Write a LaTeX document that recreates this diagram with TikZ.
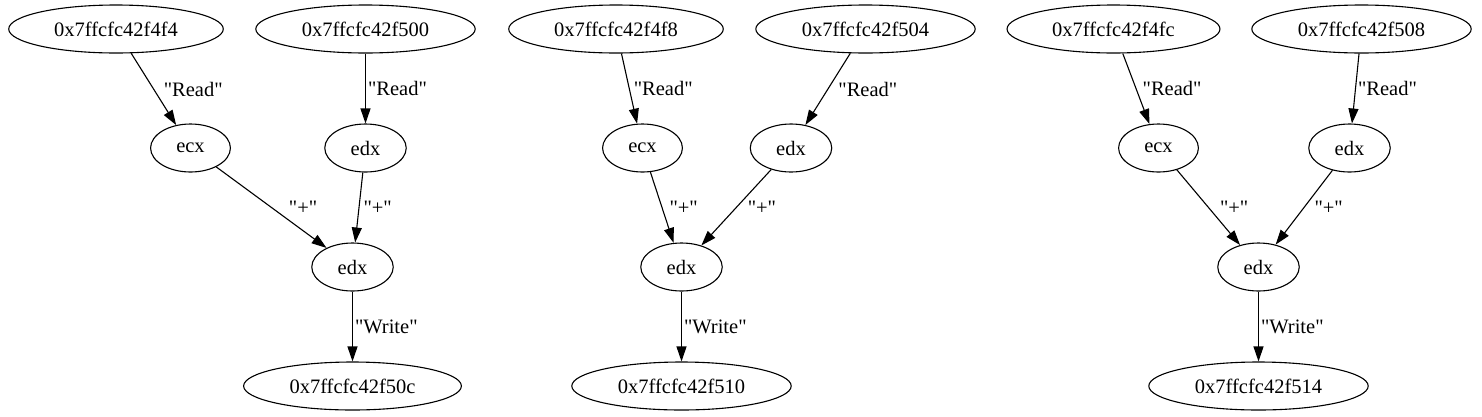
\documentclass[tikz,border=0pt]{standalone}
\usepackage{fontspec}
\setmainfont{Liberation Serif}
\usetikzlibrary{arrows.meta, shapes.geometric}
\newcommand\qq[1]{\textquotedbl#1\textquotedbl}
\tikzset{
  reg/.style={draw, ellipse, line width=1.1pt, inner xsep=14pt, inner ysep=0pt,
    minimum height=48pt, font=\fontsize{20.5}{24}\selectfont},
  flow/.style={-{Triangle[length=15pt,width=10pt]}, line width=1.1pt},
  lbl/.style={midway, anchor=west, inner sep=0pt, font=\fontsize{20.5}{24}\selectfont}
}
\begin{document}
\begin{tikzpicture}[x=1pt, y=-1pt]
  \useasboundingbox (0,0) rectangle (1482,416);
  \foreach \g/\xa/\xb/\xc/\xd/\xs/\ta/\tb/\tc/\ra/\rb/\pa/\pb in {
      1/116/365.5/190.5/365.5/352.5/f4f4/f500/f50c/9.6/2/17/4,
      2/616/865.5/642.5/791/681.5/f4f8/f504/f510/4/10/7/11,
      3/1113.5/1361.5/1158.5/1349.5/1258.5/f4fc/f508/f514/6/2/11/10}
  {
    \node[reg] (ina\g) at (\xa,29) {0x7ffcfc42\ta};
    \node[reg] (inb\g) at (\xb,29) {0x7ffcfc42\tb};
    \node[reg] (ecx\g) at (\xc,148) {ecx};
    \node[reg] (edx\g) at (\xd,148) {edx};
    \node[reg] (sum\g) at (\xs,267) {edx};
    \node[reg] (out\g) at (\xs,386) {0x7ffcfc42\tc};
    \draw[flow] (ina\g) -- node[lbl, xshift=\ra pt] {\qq{Read}} (ecx\g);
    \draw[flow] (inb\g) -- node[lbl, xshift=\rb pt] {\qq{Read}} (edx\g);
    \draw[flow] (ecx\g) -- node[lbl, xshift=\pa pt] {\qq{+}} (sum\g);
    \draw[flow] (edx\g) -- node[lbl, xshift=\pb pt] {\qq{+}} (sum\g);
    \draw[flow] (sum\g) -- node[lbl, xshift=2pt] {\qq{Write}} (out\g);
  }
\end{tikzpicture}
\end{document}
